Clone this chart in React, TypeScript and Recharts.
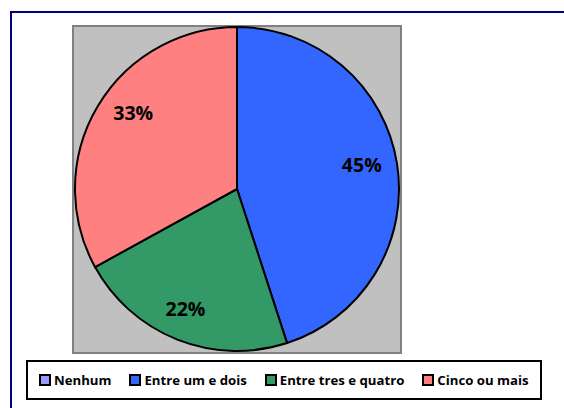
import { PieChart, Pie, Cell, Legend } from 'recharts';

const categories = ['Nenhum', 'Entre um e dois', 'Entre tres e quatro', 'Cinco ou mais'];
const shares = [0, 45, 22, 33];
const colors = ['#9999FF', '#3366FF', '#339966', '#FF8080'];

const data = categories.map((name, i) => ({ name, value: shares[i] }));

// small nudges so the labels sit where Excel put them
const labelNudge = [
  [0, 0],
  [0, -5],
  [-5, 2],
  [5, -12],
];

const RADIAN = Math.PI / 180;

function renderLabel(props: any) {
  const { cx, cy, midAngle, outerRadius, percent, index } = props;
  if (!percent) return null;
  const r = outerRadius * 0.78;
  const x = cx + r * Math.cos(-midAngle * RADIAN) + labelNudge[index][0];
  const y = cy + r * Math.sin(-midAngle * RADIAN) + labelNudge[index][1];
  return (
    <text
      x={x}
      y={y}
      textAnchor="middle"
      dominantBaseline="central"
      fill="#000"
      style={{ fontFamily: "'Open Sans', sans-serif", fontWeight: 700, fontSize: 19.5 }}
    >
      {`${Math.round(percent * 100)}%`}
    </text>
  );
}

function LegendBox() {
  return (
    <div
      style={{
        width: 501,
        height: 36,
        border: '2px solid #000',
        boxSizing: 'content-box',
        display: 'flex',
        alignItems: 'center',
        paddingLeft: 11,
        gap: 18,
        fontFamily: "'Open Sans', sans-serif",
        fontWeight: 'bold',
        fontSize: 13.2,
        color: '#000',
        background: '#fff',
      }}
    >
      {categories.map((c, i) => (
        <div key={c} style={{ display: 'flex', alignItems: 'center' }}>
          <span
            style={{
              width: 8,
              height: 8,
              border: '2px solid #000',
              background: colors[i],
              marginRight: 3,
              display: 'inline-block',
            }}
          />
          <span>{c}</span>
        </div>
      ))}
    </div>
  );
}

export default function App() {
  return (
    <div style={{ position: 'absolute', left: 0, top: 0, width: 564, height: 408, background: '#fff', overflow: 'hidden' }}>
      <div
        style={{
          position: 'absolute',
          left: 10,
          top: 11,
          width: 600,
          height: 450,
          border: '2px solid #000080',
        }}
      />
      <div
        style={{
          position: 'absolute',
          left: 72,
          top: 25,
          width: 326,
          height: 325,
          background: '#C0C0C0',
          border: '2px solid #808080',
        }}
      />
      <div style={{ position: 'absolute', left: 0, top: 0 }}>
        <PieChart width={564} height={408} margin={{ top: 0, right: 0, bottom: 0, left: 0 }}>
          <Pie
            data={data}
            dataKey="value"
            nameKey="name"
            cx={237}
            cy={189}
            outerRadius={162}
            startAngle={90}
            endAngle={-270}
            stroke="#000"
            strokeWidth={2}
            label={renderLabel}
            labelLine={false}
            isAnimationActive={false}
          >
            {data.map((d, i) => (
              <Cell key={d.name} fill={colors[i]} />
            ))}
          </Pie>
          <Legend
            content={() => <LegendBox />}
            wrapperStyle={{ position: 'absolute', left: 26, top: 360, width: 'auto' }}
          />
        </PieChart>
      </div>
    </div>
  );
}
